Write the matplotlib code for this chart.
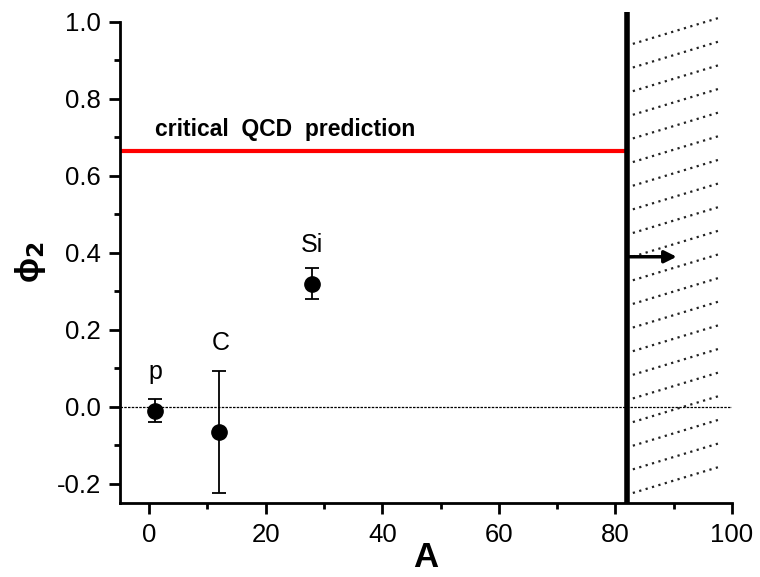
import numpy as np
import matplotlib
matplotlib.use("Agg")
import matplotlib.pyplot as plt

plt.rcParams['font.family'] = ['Liberation Sans', 'DejaVu Sans']

# data points
nuclei = ["p", "C", "Si"]
mass_A = [1, 12, 28]
phi2 = [-0.01, -0.065, 0.32]
phi2_err = [0.03, 0.158, 0.04]
label_x = [1, 12.3, 28]
label_y = [0.091, 0.166, 0.42]

qcd_prediction = 0.665
qcd_label = "critical  QCD  prediction"
boundary_A = 82
arrow_y = 0.39

x_ticks = [0, 20, 40, 60, 80, 100]
y_ticks = [-0.2, 0.0, 0.2, 0.4, 0.6, 0.8, 1.0]
y_ticklabels = ["-0.2", "0.0", "0.2", "0.4", "0.6", "0.8", "1.0"]

fig = plt.figure(figsize=(7.6, 5.77), dpi=100)
ax = fig.add_axes([0.158, 0.128, 0.805, 0.834])

ax.set_xlim(-5, 100)
ax.set_ylim(-0.25, 1.0)

# zero line
ax.axhline(0, color="black", lw=0.9, ls=(0, (2, 1)), zorder=1)

# red QCD line
ax.plot([-5, boundary_A], [qcd_prediction, qcd_prediction], color="red", lw=3, zorder=2)
ax.text(1, 0.72, qcd_label, fontsize=16.5, fontweight="bold", va="center")

# boundary and hatched excluded region
ax.plot([boundary_A, boundary_A], [-0.25, 1.025], color="black", lw=4,
        clip_on=False, zorder=3, solid_capstyle="butt")
hatch_tops = np.arange(1.013, -0.16, -0.0614)
for yt in hatch_tops:
    ax.plot([83.0, 98.3], [yt - 0.07, yt], color="#222222", lw=1.6,
            ls=(0, (1, 2.0)), clip_on=False, zorder=1)

ax.annotate("", xy=(91, arrow_y), xytext=(boundary_A, arrow_y),
            arrowprops=dict(arrowstyle="-|>", color="black", lw=2.5,
                            mutation_scale=18), zorder=4)

# measurements
ax.errorbar(mass_A, phi2, yerr=phi2_err, fmt="o", color="black", ms=11,
            capsize=5, elinewidth=1.3, capthick=1.3, zorder=5)
for name, lx, ly in zip(nuclei, label_x, label_y):
    ax.text(lx, ly, name, fontsize=18, ha="center", va="center")

ax.spines["top"].set_visible(False)
ax.spines["right"].set_visible(False)
ax.spines["left"].set_linewidth(2)
ax.spines["bottom"].set_linewidth(2)

ax.set_xticks(x_ticks)
ax.set_xticks([10, 30, 50, 70, 90], minor=True)
ax.set_yticks(y_ticks)
ax.set_yticklabels(y_ticklabels)
ax.set_yticks([-0.1, 0.1, 0.3, 0.5, 0.7, 0.9], minor=True)
ax.tick_params(axis="both", which="major", direction="out", length=8, width=2,
               labelsize=18.5, pad=6)
ax.tick_params(axis="both", which="minor", direction="out", length=4, width=2)

ax.set_xlabel("A", fontsize=25, fontweight="bold", labelpad=-4)
ax.set_ylabel("\u03d5$_\\mathbf{2}$", fontsize=24, fontweight="bold", labelpad=6)

fig.savefig("out.png", dpi=100)
